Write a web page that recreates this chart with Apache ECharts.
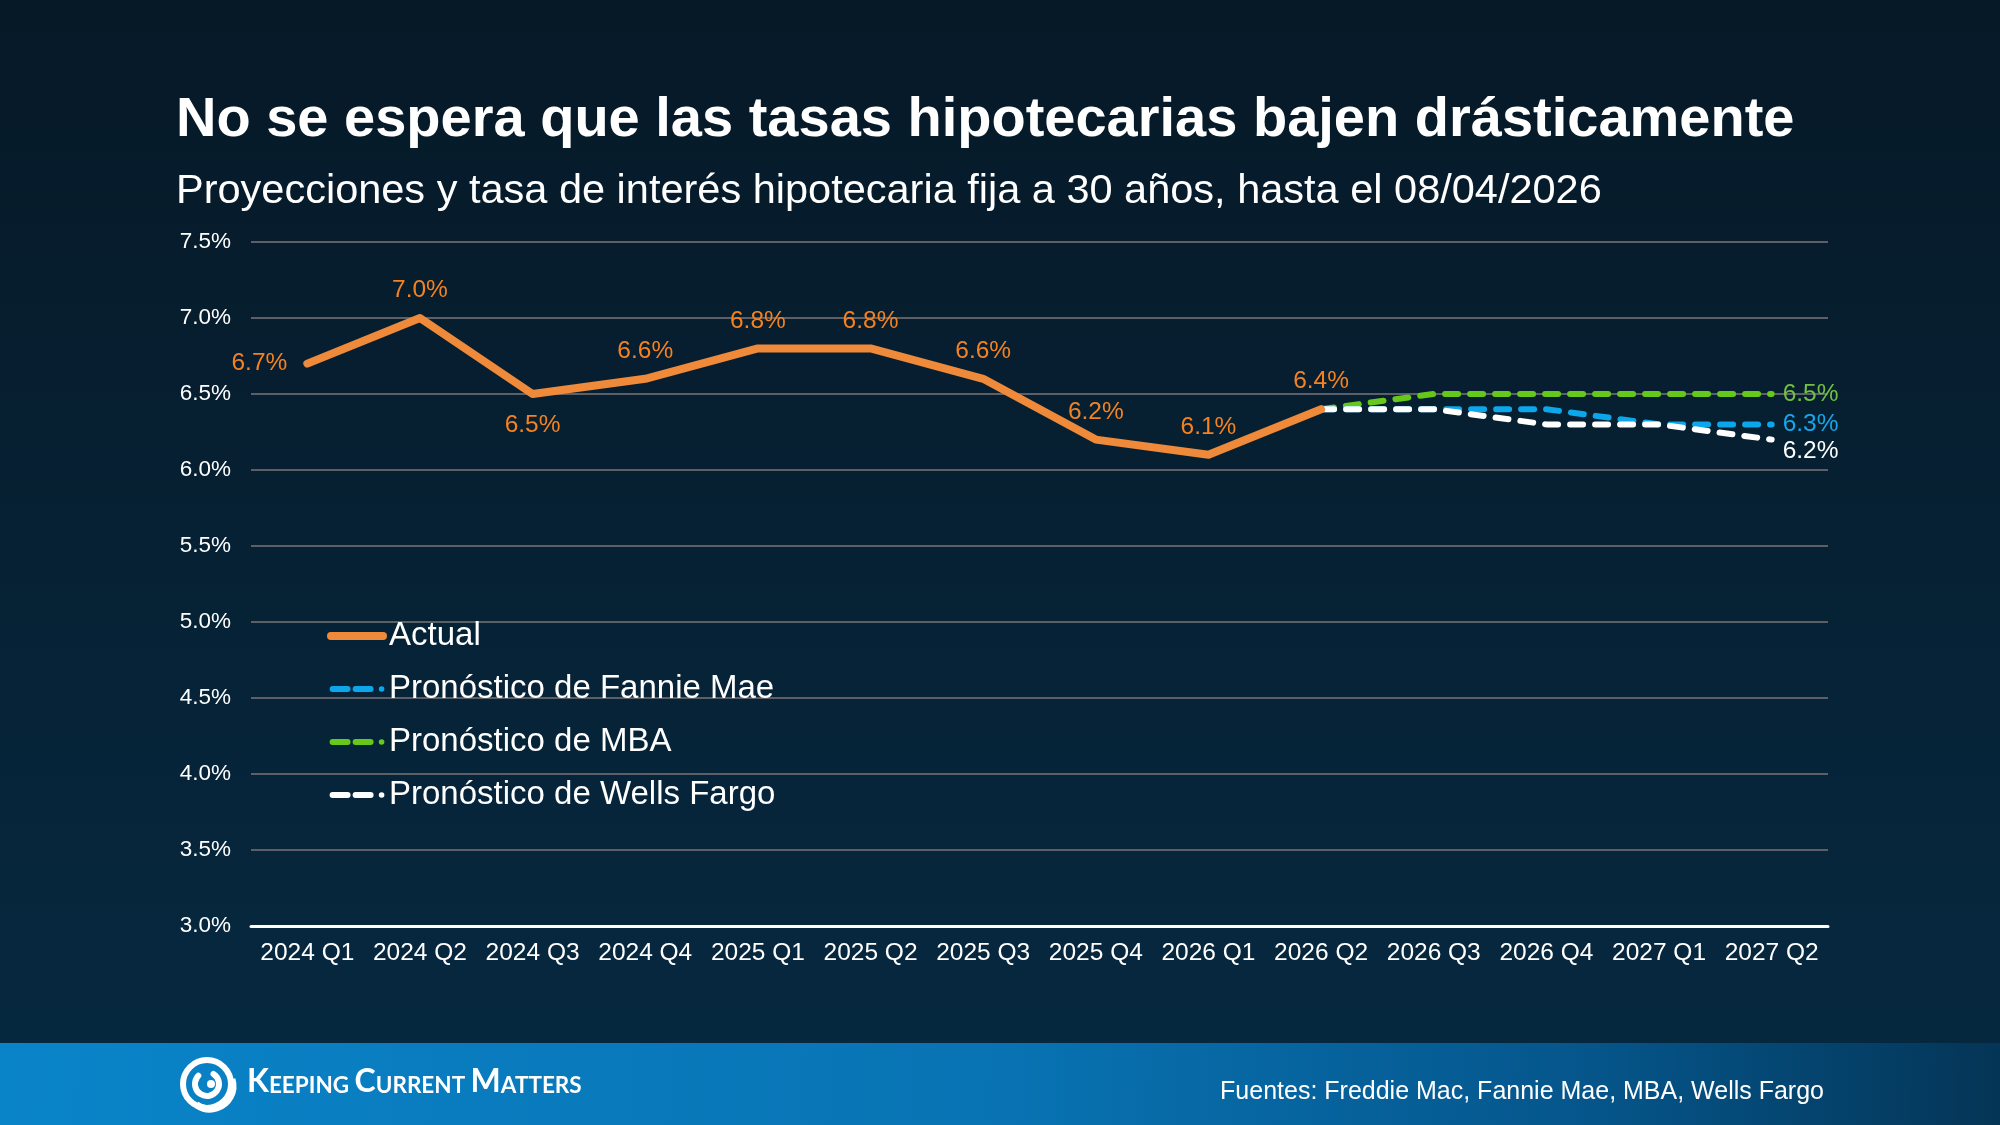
<!DOCTYPE html>
<html>
<head>
<meta charset="utf-8">
<script src="https://cdn.jsdelivr.net/npm/echarts@6/dist/echarts.min.js"></script>
<style>
html,body{margin:0;padding:0;width:2000px;height:1125px;overflow:hidden;background:#061a28;}
#chart{width:2000px;height:1125px;}
</style>
</head>
<body>
<div id="chart"></div>
<script>
// ---- data ----
const categories = ['2024 Q1','2024 Q2','2024 Q3','2024 Q4','2025 Q1','2025 Q2','2025 Q3','2025 Q4','2026 Q1','2026 Q2','2026 Q3','2026 Q4','2027 Q1','2027 Q2'];
const actual = [6.7, 7.0, 6.5, 6.6, 6.8, 6.8, 6.6, 6.2, 6.1, 6.4];
const forecastStartIndex = 9; // forecasts begin at 2026 Q2
const fannieMae = [6.4, 6.4, 6.4, 6.3, 6.3];
const mba = [6.4, 6.5, 6.5, 6.5, 6.5];
const wellsFargo = [6.4, 6.4, 6.3, 6.3, 6.2];
const yMin = 3.0, yMax = 7.5, yStep = 0.5;
const seriesNames = ['Actual','Pronóstico de Fannie Mae','Pronóstico de MBA','Pronóstico de Wells Fargo'];
const titleText = 'No se espera que las tasas hipotecarias bajen drásticamente';
const subtitleText = 'Proyecciones y tasa de interés hipotecaria fija a 30 años, hasta el 08/04/2026';
const sourceText = 'Fuentes: Freddie Mac, Fannie Mae, MBA, Wells Fargo';

// ---- styling ----
const FONT = '"Liberation Sans", Arial, Helvetica, sans-serif';
const actualLabelPlacement = ['left','top','bottom','top','top','top','top','top','top','top'];
const fmt = v => v.toFixed(1) + '%';
const SOLID_ICON = 'path://M4,0h53a4,4 0 0 1 0,8h-53a4,4 0 0 1 0,-8z';
const DASH_ICON = 'path://M3,1h15a3,3 0 0 1 0,6h-15a3,3 0 0 1 0,-6z M26,1h15a3,3 0 0 1 0,6h-15a3,3 0 0 1 0,-6z M52,1.2a2.8,2.8 0 1 1 0,5.6a2.8,2.8 0 1 1 0,-5.6z M0,0h0.01v8h-0.01z';

function padForecast(arr){
  const out = new Array(forecastStartIndex).fill(null);
  return out.concat(arr);
}
function forecastData(arr, color, offset){
  const d = padForecast(arr);
  return d.map((v, i) => {
    if (i === d.length - 1) {
      return { value: v, label: { show: true, position: 'right', distance: 10, offset: offset, color: color, fontSize: 24.5, fontFamily: FONT, formatter: p => fmt(p.value) } };
    }
    return v;
  });
}

const actualData = actual.map((v, i) => ({
  value: v,
  label: {
    show: true,
    position: actualLabelPlacement[i],
    distance: actualLabelPlacement[i] === 'left' ? 19 : (actualLabelPlacement[i] === 'bottom' ? 18 : 14)
  }
}));

const chart = echarts.init(document.getElementById('chart'));
const option = {
  backgroundColor: new echarts.graphic.LinearGradient(0, 0, 0, 1, [
    {offset: 0, color: '#061927'},
    {offset: 0.9, color: '#06283f'},
    {offset: 1, color: '#06283f'}
  ]),
  animation: false,
  grid: { left: 251, right: 172, top: 242, bottom: 199, containLabel: false },
  xAxis: {
    type: 'category',
    data: categories,
    boundaryGap: true,
    axisLine: { show: true, lineStyle: { color: '#ffffff', width: 3 } },
    axisTick: { show: false },
    axisLabel: { color: '#ffffff', fontSize: 24.5, fontFamily: FONT, margin: 15, interval: 0 },
    splitLine: { show: false }
  },
  yAxis: {
    type: 'value',
    min: yMin, max: yMax, interval: yStep,
    axisLine: { show: false },
    axisTick: { show: false },
    axisLabel: { color: '#ffffff', fontSize: 22.5, fontFamily: FONT, margin: 20, formatter: v => v.toFixed(1) + '%' },
    splitLine: { show: true, lineStyle: { color: '#5c6066', width: 2 } }
  },
  legend: {
    orient: 'vertical',
    left: 322,
    top: 611,
    itemWidth: 60,
    itemHeight: 8,
    itemGap: 13,
    data: [
      { name: seriesNames[0], icon: SOLID_ICON },
      { name: seriesNames[1], icon: DASH_ICON },
      { name: seriesNames[2], icon: DASH_ICON },
      { name: seriesNames[3], icon: DASH_ICON }
    ],
    textStyle: { color: '#ffffff', fontSize: 33, fontFamily: FONT, lineHeight: 40, padding: [0,0,0,-3] }
  },
  series: [
    {
      name: seriesNames[2], type: 'line', z: 2,
      data: forecastData(mba, '#72c043', [0, 0]),
      symbol: 'circle', symbolSize: 2, showSymbol: true,
      lineStyle: { color: '#66c81a', width: 6, type: [13, 12], cap: 'round' },
      itemStyle: { color: '#66c81a' }
    },
    {
      name: seriesNames[1], type: 'line', z: 3,
      data: forecastData(fannieMae, '#18a6ea', [0, 0]),
      symbol: 'circle', symbolSize: 2, showSymbol: true,
      lineStyle: { color: '#0ca6ea', width: 6, type: [13, 12], cap: 'round' },
      itemStyle: { color: '#0ca6ea' }
    },
    {
      name: seriesNames[3], type: 'line', z: 4,
      data: forecastData(wellsFargo, '#ffffff', [0, 12]),
      symbol: 'circle', symbolSize: 2, showSymbol: true,
      lineStyle: { color: '#ffffff', width: 6, type: [13, 12], cap: 'round' },
      itemStyle: { color: '#ffffff' }
    },
    {
      name: seriesNames[0], type: 'line', z: 5,
      data: actualData,
      symbol: 'circle', symbolSize: 2, showSymbol: true,
      lineStyle: { color: '#ee8a3a', width: 8, cap: 'round', join: 'round' },
      itemStyle: { color: '#ee8a3a' },
      label: { show: true, color: '#f5821f', fontSize: 24.5, fontFamily: FONT, formatter: p => fmt(p.value) }
    }
  ],
  graphic: [
    { type: 'text', left: 176, top: 93, style: { text: titleText, fill: '#ffffff', font: 'bold 56px ' + FONT } },
    { type: 'text', left: 176, top: 171, style: { text: subtitleText, fill: '#ffffff', font: '41.5px ' + FONT } },
    {
      type: 'rect', shape: { x: 0, y: 1043, width: 2000, height: 82 }, z: 0,
      style: { fill: new echarts.graphic.LinearGradient(0, 0, 1, 0.3, [
        {offset: 0, color: '#0a84c9'},
        {offset: 0.5, color: '#0873b3'},
        {offset: 0.8, color: '#05558a'},
        {offset: 1, color: '#043556'}
      ]) }
    },
    // logo icon
    { type: 'circle', shape: { cx: 207, cy: 1084, r: 24 }, style: { fill: 'none', stroke: '#ffffff', lineWidth: 6 } },
    { type: 'arc', shape: { cx: 210, cy: 1086, r: 23, startAngle: -0.3, endAngle: 2.2, clockwise: true }, style: { fill: 'none', stroke: '#ffffff', lineWidth: 7 } },
    { type: 'arc', shape: { cx: 207, cy: 1084, r: 12, startAngle: -1.0, endAngle: 3.9, clockwise: true }, style: { fill: 'none', stroke: '#ffffff', lineWidth: 6, lineCap: 'round' } },
    { type: 'circle', shape: { cx: 211, cy: 1084, r: 4 }, style: { fill: '#ffffff' } },
    {
      type: 'text', left: 247, top: 1066,
      style: {
        text: '{a|K}{b|EEPING }{a|C}{b|URRENT }{a|M}{b|ATTERS}',
        fill: '#ffffff',
        rich: {
          a: { fontSize: 32, fontFamily: 'Lato, "Open Sans", sans-serif', fontWeight: 'bold', color: '#ffffff', verticalAlign: 'bottom' },
          b: { fontSize: 22.5, fontFamily: 'Lato, "Open Sans", sans-serif', fontWeight: 'bold', color: '#ffffff', verticalAlign: 'bottom', padding: [0,0,1,0] }
        }
      }
    },
    { type: 'text', right: 176, top: 1080, style: { text: sourceText, fill: '#ffffff', font: '25px ' + FONT } }
  ]
};
chart.setOption(option);
</script>
</body>
</html>
